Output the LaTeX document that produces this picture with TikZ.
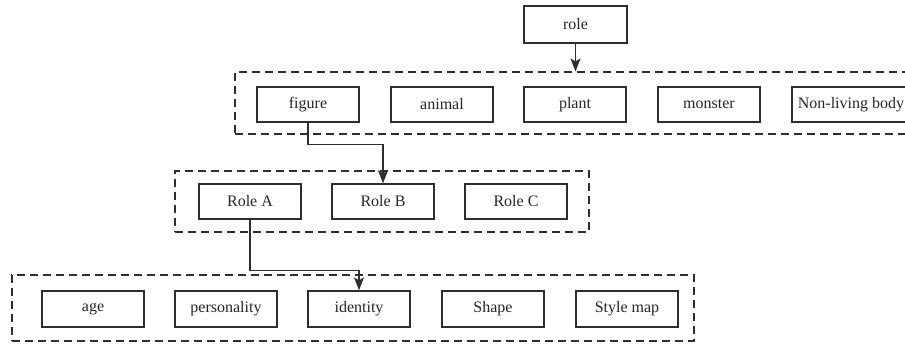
\documentclass[tikz,border=0pt]{standalone}
\usepackage{fontspec}
\setmainfont{Liberation Serif}
\usetikzlibrary{arrows.meta}
\definecolor{ink}{HTML}{2E2E2E}
\begin{document}
\begin{tikzpicture}[x=1pt,y=-1pt,
  item/.style={draw=ink,line width=1.3pt,minimum width=102pt,minimum height=35pt,
    inner sep=0pt,font=\fontsize{16}{18}\selectfont,text=black!85},
  group/.style={draw=ink,line width=1.1pt,dash pattern=on 8pt off 5pt,inner sep=0pt},
  link/.style={draw=ink,line width=1.3pt,-{Stealth[length=13pt,width=10pt,inset=3pt]}}]
\useasboundingbox (0,0) rectangle (905,347);

% dashed group frames
\node[group,minimum width=677pt,minimum height=62pt] (f1) at (573.5,103) {};
\node[group,minimum width=414pt,minimum height=61pt] (f2) at (382,201.5) {};
\node[group,minimum width=682pt,minimum height=66pt] (f3) at (353,308) {};

% root
\node[item,minimum width=103pt,minimum height=37pt] (role) at (575.5,24.5) {role};

% first level
\node[item] (figure) at (308,104.5) {figure};
\node[item] (animal) at (442,104.5) {animal};
\node[item] (plant) at (575,104.5) {plant};
\node[item] (monster) at (709,104.5) {monster};
\node[item,minimum width=118pt] (nonliving) at (851,104.5) {Non-living body};

% second level
\node[item] (roleA) at (250,201.5) {Role A};
\node[item] (roleB) at (383,201.5) {Role B};
\node[item] (roleC) at (516,201.5) {Role C};

% third level
\node[item,minimum height=36pt] (age) at (93,309) {age};
\node[item,minimum height=36pt] (personality) at (226,309) {personality};
\node[item,minimum height=36pt] (identity) at (359,309) {identity};
\node[item,minimum height=36pt] (shape) at (493,309) {Shape};
\node[item,minimum height=36pt] (stylemap) at (627,309) {Style map};

% connectors
\draw[link] (role.south) -- (role.south |- f1.north);
\draw[link] (figure.south) -- ++(0,22) -| (roleB.north);
\draw[link] (roleA.south) -- ++(0,51) -| (identity.north);
\end{tikzpicture}
\end{document}
